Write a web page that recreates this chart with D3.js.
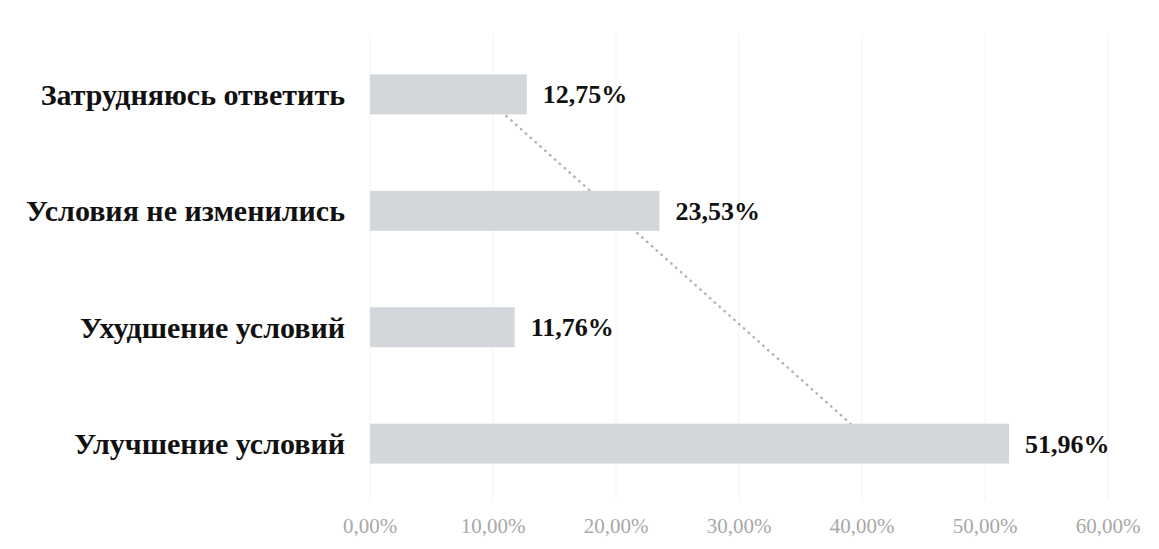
<!DOCTYPE html>
<html>
<head>
<meta charset="utf-8">
<script src="https://cdn.jsdelivr.net/npm/d3@7"></script>
<style>
  body { margin: 0; background: #fff; }
  svg { display: block; }
</style>
</head>
<body>
<svg id="chart" width="1159" height="549"></svg>
<script>
// data, top to bottom as drawn
const categories = ["Затрудняюсь ответить", "Условия не изменились", "Ухудшение условий", "Улучшение условий"];
const values = [12.75, 23.53, 11.76, 51.96];
const tickValues = [0, 10, 20, 30, 40, 50, 60];

const width = 1159, height = 549;
const margin = { left: 370, right: 51, top: 36, bottom: 47 };

const svg = d3.select("#chart");

const x = d3.scaleLinear()
  .domain([0, 60])
  .range([margin.left, width - margin.right]);

const y = d3.scaleBand()
  .domain(categories)
  .range([margin.top, height - margin.bottom])
  .paddingInner(0.657)
  .paddingOuter(0.33);

const fmt = (v) => v.toFixed(2).replace(".", ",") + "%";

// gridlines
svg.append("g")
  .selectAll("line")
  .data(tickValues)
  .join("line")
  .attr("x1", (d) => x(d))
  .attr("x2", (d) => x(d))
  .attr("y1", 34)
  .attr("y2", 500)
  .attr("stroke", "#f3f3f3")
  .attr("stroke-width", 1);

// axis labels
svg.append("g")
  .selectAll("text")
  .data(tickValues)
  .join("text")
  .attr("x", (d) => x(d))
  .attr("y", 533)
  .attr("text-anchor", "middle")
  .attr("font-family", "Liberation Serif")
  .attr("font-size", 21)
  .attr("fill", "#a8a8a8")
  .text((d) => d.toFixed(2).replace(".", ",") + "%");

// linear trendline (least squares over category order, bottom = 1)
const n = values.length;
const pts = values.map((v, i) => [n - i, v]);
const mx = d3.mean(pts, (p) => p[0]);
const my = d3.mean(pts, (p) => p[1]);
const slope = d3.sum(pts, (p) => (p[0] - mx) * (p[1] - my)) / d3.sum(pts, (p) => (p[0] - mx) ** 2);
const fit = (k) => my + slope * (k - mx);

svg.append("line")
  .attr("x1", x(fit(n)))
  .attr("y1", y(categories[0]) + y.bandwidth() / 2)
  .attr("x2", x(fit(1)))
  .attr("y2", y(categories[n - 1]) + y.bandwidth() / 2)
  .attr("stroke", "#b4b4b4")
  .attr("stroke-width", 2.5)
  .attr("stroke-linecap", "round")
  .attr("stroke-dasharray", "0.5,6");

// bars
svg.append("g")
  .selectAll("rect")
  .data(categories)
  .join("rect")
  .attr("x", x(0))
  .attr("y", (d) => y(d))
  .attr("width", (d, i) => x(values[i]) - x(0))
  .attr("height", y.bandwidth())
  .attr("fill", "#d3d6db");

// value labels
svg.append("g")
  .selectAll("text")
  .data(categories)
  .join("text")
  .attr("x", (d, i) => x(values[i]) + 16)
  .attr("y", (d) => y(d) + y.bandwidth() / 2)
  .attr("dy", "0.35em")
  .attr("font-family", "Liberation Serif")
  .attr("font-weight", "bold")
  .attr("font-size", 26)
  .attr("fill", "#111")
  .text((d, i) => fmt(values[i]));

// category labels
svg.append("g")
  .selectAll("text")
  .data(categories)
  .join("text")
  .attr("x", margin.left - 25)
  .attr("y", (d) => y(d) + y.bandwidth() / 2)
  .attr("dy", "0.35em")
  .attr("text-anchor", "end")
  .attr("font-family", "Liberation Serif")
  .attr("font-weight", "bold")
  .attr("font-size", 30)
  .attr("fill", "#111")
  .text((d) => d);
</script>
</body>
</html>
